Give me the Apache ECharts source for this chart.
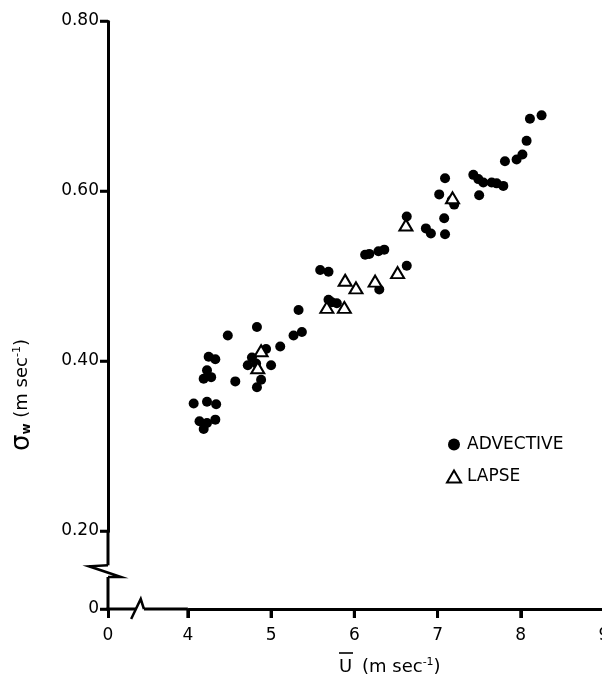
<!DOCTYPE html>
<html>
<head>
<meta charset="utf-8">
<script src="https://cdn.jsdelivr.net/npm/echarts@6/dist/echarts.min.js"></script>
<style>
html,body{margin:0;padding:0;background:#fff;}
#c{width:602px;height:677px;}
</style>
</head>
<body>
<div id="c"></div>
<script>
// ---- data ----
var advU =     [4.07,4.14,4.19,4.23,4.33,4.23,4.34,4.19,4.28,4.23,4.25,4.33,4.48,4.57,4.72,4.77,4.82,4.83,4.94,4.88,4.83,5.00,5.11,5.27,5.37,5.33,5.59,5.69,5.69,5.73,5.79,6.13,6.18,6.29,6.36,6.30,6.63,6.63,6.86,6.92,7.02,7.09,7.08,7.09,7.17,7.20,7.43,7.49,7.55,7.65,7.71,7.79,7.50,7.81,7.95,8.02,8.07,8.11,8.25];
var advSigma = [0.350,0.329,0.320,0.327,0.331,0.352,0.349,0.379,0.381,0.389,0.405,0.402,0.430,0.376,0.395,0.404,0.397,0.440,0.414,0.378,0.369,0.395,0.417,0.430,0.434,0.460,0.507,0.505,0.472,0.469,0.468,0.525,0.526,0.529,0.531,0.484,0.512,0.570,0.556,0.550,0.596,0.615,0.568,0.549,0.589,0.584,0.619,0.614,0.610,0.610,0.609,0.606,0.595,0.635,0.637,0.643,0.659,0.685,0.689];
var lapseU =     [4.88,4.84,5.67,5.88,5.89,6.02,6.25,6.52,6.62,7.18];
var lapseSigma = [0.412,0.392,0.463,0.463,0.495,0.486,0.494,0.504,0.560,0.592];

var xTickValues = [0,4,5,6,7,8,9];
var xTickLabels = ['0','4','5','6','7','8','9'];
var yTickValues = [0,0.2,0.4,0.6,0.8];
var yTickLabels = ['0','0.20','0.40','0.60','0.80'];
var seriesNames = ['ADVECTIVE','LAPSE'];

function pairs(xs, ys){ return xs.map(function(x,i){ return [x, ys[i]]; }); }
function fmt(vals, labs){ return function(v){ for(var i=0;i<vals.length;i++){ if(Math.abs(vals[i]-v)<1e-6) return labs[i]; } return ''; }; }

var FONT = 'DejaVu Sans';
var chart = echarts.init(document.getElementById('c'), null, {renderer:'canvas'});
var option = {
  backgroundColor:'#fff',
  animation:false,
  grid:{left:108, top:21, right:-2, bottom:68, outerBoundsMode:'none'},
  xAxis:{
    type:'value', min:0, max:9, interval:1,
    breaks:[{start:0, end:4, gap:'16.1%'}],
    breakArea:{show:false},
    axisLine:{show:true, lineStyle:{color:'#000', width:3}},
    axisTick:{show:true, inside:false, length:9, lineStyle:{color:'#000', width:3}},
    splitLine:{show:false},
    axisLabel:{color:'#000', fontFamily:FONT, fontSize:17, margin:18, formatter:fmt(xTickValues, xTickLabels)}
  },
  yAxis:{
    type:'value', min:0, max:0.8, interval:0.2,
    breaks:[{start:0, end:0.2, gap:'13.27%'}],
    breakArea:{show:false},
    axisLine:{show:true, lineStyle:{color:'#000', width:3}},
    axisTick:{show:true, inside:false, length:8, lineStyle:{color:'#000', width:2.5}},
    splitLine:{show:false},
    axisLabel:{color:'#000', fontFamily:FONT, fontSize:17, margin:9, formatter:fmt(yTickValues, yTickLabels)}
  },
  legend:{
    orient:'vertical', left:441, top:431, itemGap:15, itemWidth:14, itemHeight:12,
    textStyle:{color:'#000', fontFamily:FONT, fontSize:17, padding:[0,0,0,1]},
    data:[
      {name:seriesNames[0], icon:'circle', itemStyle:{color:'#000'}},
      {name:seriesNames[1], icon:'triangle', itemStyle:{color:'#fff', borderColor:'#000', borderWidth:2}}
    ]
  },
  series:[
    {name:seriesNames[0], type:'scatter', data:pairs(advU, advSigma), symbol:'circle', symbolSize:10,
     itemStyle:{color:'#000', opacity:1}, z:2},
    {name:seriesNames[1], type:'scatter', data:pairs(lapseU, lapseSigma), symbol:'triangle', symbolSize:[13,11],
     itemStyle:{color:'#fff', borderColor:'#000', borderWidth:2, opacity:1}, z:3}
  ]
};
chart.setOption(option);

// axis pieces inside the breaks, tick marks, break glyphs and axis titles, placed through the chart's own scale
var p0 = chart.convertToPixel({gridIndex:0}, [0, 0]);
var x4 = chart.convertToPixel({gridIndex:0}, [4, 0])[0];
var y2 = chart.convertToPixel({gridIndex:0}, [0, 0.2])[1];
var ax = p0[0], ay = p0[1];
var h = ay - y2, w = x4 - ax;
var yT = ay - 0.56*h, yB = ay - 0.41*h;
var ln = function(x1,y1,x2,y2,lw){ return {type:'line', z:10, shape:{x1:x1,y1:y1,x2:x2,y2:y2}, style:{stroke:'#000', lineWidth:lw||3, lineCap:'butt'}}; };
var g = [
  ln(ax, y2, ax, yT), ln(ax, yB, ax, ay+1.5),
  ln(ax-1.5, ay, ax+0.35*w, ay), ln(ax+0.45*w, ay, x4, ay)
];
xTickValues.forEach(function(v){ if(v===0) return; var px = chart.convertToPixel({gridIndex:0}, [v, 0.5])[0]; g.push(ln(px, ay, px, ay+9, 3)); });
yTickValues.forEach(function(v){ var py = chart.convertToPixel({gridIndex:0}, [5, v])[1]; g.push(ln(ax-8, py, ax, py, 2.5)); });
g.push(
  {type:'polyline', z:10, shape:{points:[[ax,yT],[ax-19,yT+1],[ax+13,yB],[ax,yB]]},
   style:{stroke:'#000', lineWidth:2.5, fill:null, lineJoin:'miter'}},
  {type:'polyline', z:10, shape:{points:[[ax+0.29*w, ay+10],[ax+0.41*w, ay-10],[ax+0.45*w, ay]]},
   style:{stroke:'#000', lineWidth:2.5, fill:null, lineJoin:'miter'}},
  {type:'text', z:10, x:22, y:395, rotation:Math.PI/2, style:{
    text:'{s|σ}{b|w} (m sec{p|-1})', fill:'#000', align:'center', verticalAlign:'middle',
    font:'18px '+FONT,
    rich:{s:{fontSize:26, fontFamily:FONT, fill:'#000'}, b:{fontSize:12, fontFamily:FONT, fontWeight:'bold', padding:[10,0,0,0], fill:'#000'},
          p:{fontSize:11, fontFamily:FONT, padding:[0,0,9,0], fill:'#000'}}
  }},
  {type:'text', z:10, x:339, y:667, style:{text:'U', fill:'#000', align:'left', verticalAlign:'middle', font:'18px '+FONT}},
  {type:'line', z:10, shape:{x1:339, y1:653, x2:353, y2:653}, style:{stroke:'#000', lineWidth:1.6}},
  {type:'text', z:10, x:362, y:667, style:{
    text:'(m sec{p|-1})', fill:'#000', align:'left', verticalAlign:'middle', font:'18px '+FONT,
    rich:{p:{fontSize:11, fontFamily:FONT, padding:[0,0,9,0], fill:'#000'}}
  }}
);
chart.setOption({graphic:g});
</script>
</body>
</html>
